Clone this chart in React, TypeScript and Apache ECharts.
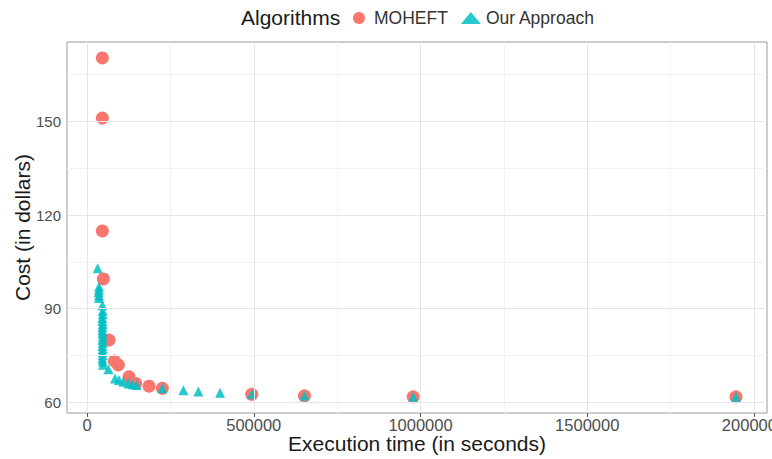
import React, { useEffect, useRef } from "react";
import * as echarts from "echarts";

// MOHEFT results: execution time (s) and cost ($)
const moheftTime = [46000, 46000, 46000, 49000, 66000, 82000, 94000, 126000, 146000, 186000, 226000, 494000, 652000, 978000, 1946000];
const moheftCost = [170.4, 151.1, 114.9, 99.5, 79.9, 73.2, 71.9, 68.1, 66.0, 65.1, 64.4, 62.5, 62.0, 61.7, 61.7];

// Our Approach results: execution time (s) and cost ($)
const oursTime = [
  32000, 36000, 36000, 35000, 36000, 36000, 46000, 47000, 47000, 46000, 46000, 47000, 46000, 46000, 46000,
  47000, 46000, 47000, 46000, 47000, 46000, 47000, 46000, 47000, 48000, 64000, 84000, 96000, 109000, 124000,
  136000, 149000, 226000, 289000, 334000, 399000, 494000, 652000, 978000, 1946000,
];
const oursCost = [
  102.9, 97.0, 96.0, 95.2, 94.2, 93.4, 91.1, 89.3, 88.2, 87.0, 86.0, 85.0, 84.0, 83.0, 82.1,
  81.0, 80.0, 79.0, 78.0, 77.0, 76.0, 75.0, 74.0, 73.0, 72.0, 70.5, 67.6, 67.1, 66.5, 66.0,
  65.7, 65.5, 64.4, 63.8, 63.4, 63.0, 62.5, 62.0, 61.7, 61.7,
];

// Axis ticks and grid lines
const xMajorTicks = [0, 500000, 1000000, 1500000, 2000000];
const xMinorTicks = [250000, 750000, 1250000, 1750000];
const yMajorTicks = [60, 90, 120, 150];
const yMinorTicks = [75, 105, 135, 165];

const X_MIN = -60000;
const X_MAX = 2039000;
const Y_MIN = 56.5;
const Y_MAX = 175.5;

const FONT = "'Liberation Sans', Arial, sans-serif";

export default function App() {
  const ref = useRef<HTMLDivElement>(null);

  useEffect(() => {
    if (!ref.current) return;
    const chart = echarts.init(ref.current, null, { renderer: "svg" });

    const moheftData = moheftTime.map((t, i) => [t, moheftCost[i]]);
    const oursData = oursTime.map((t, i) => [t, oursCost[i]]);

    const gridLines = [
      ...xMajorTicks.map((v) => ({ xAxis: v, lineStyle: { color: "#E6E6E6", width: 1, type: "solid" } })),
      ...xMinorTicks.map((v) => ({ xAxis: v, lineStyle: { color: "#F2F2F2", width: 1, type: "solid" } })),
      ...yMajorTicks.map((v) => ({ yAxis: v, lineStyle: { color: "#E6E6E6", width: 1, type: "solid" } })),
      ...yMinorTicks.map((v) => ({ yAxis: v, lineStyle: { color: "#F2F2F2", width: 1, type: "solid" } })),
    ];

    chart.setOption({
      animation: false,
      backgroundColor: "#ffffff",
      textStyle: { fontFamily: FONT },
      title: {
        text: "Algorithms",
        left: 241,
        top: 7,
        padding: 0,
        textStyle: { fontSize: 21, fontWeight: "normal", color: "#1a1a1a", fontFamily: FONT },
      },
      legend: {
        left: 353,
        top: 9,
        padding: 0,
        itemWidth: 20,
        itemHeight: 12,
        itemGap: 13,
        data: [
          { name: "MOHEFT", icon: "circle" },
          { name: "Our Approach", icon: "triangle" },
        ],
        textStyle: { fontSize: 17.5, color: "#333333", fontFamily: FONT },
      },
      grid: {
        left: 67,
        right: 5,
        top: 42,
        bottom: 46,
        outerBoundsMode: "none",
        containLabel: false,
        show: true,
        borderColor: "#9a9a9a",
        borderWidth: 1,
        backgroundColor: "transparent",
      },
      xAxis: {
        type: "value",
        min: X_MIN,
        max: X_MAX,
        name: "Execution time (in seconds)",
        nameLocation: "middle",
        nameGap: 20,
        nameMoveOverlap: false,
        nameTextStyle: { fontSize: 21, color: "#1a1a1a", fontFamily: FONT },
        axisLine: { show: false },
        axisTick: { show: true, length: 4, customValues: xMajorTicks, lineStyle: { color: "#555555" } },
        axisLabel: {
          customValues: xMajorTicks,
          formatter: (v: number) => String(v),
          fontSize: 16.5,
          color: "#4d4d4d",
          margin: 3,
          fontFamily: FONT,
        },
        splitLine: { show: false },
      },
      yAxis: {
        type: "value",
        min: Y_MIN,
        max: Y_MAX,
        name: "Cost (in dollars)",
        nameLocation: "middle",
        nameGap: 34,
        nameMoveOverlap: false,
        nameTextStyle: { fontSize: 21, color: "#1a1a1a", fontFamily: FONT },
        axisLine: { show: false },
        axisTick: { show: true, length: 4, customValues: yMajorTicks, lineStyle: { color: "#555555" } },
        axisLabel: {
          customValues: yMajorTicks,
          formatter: (v: number) => String(v),
          fontSize: 15,
          color: "#4d4d4d",
          margin: 6,
          fontFamily: FONT,
        },
        splitLine: { show: false },
      },
      series: [
        {
          name: "grid",
          type: "scatter",
          data: [],
          z: 1,
          silent: true,
          markLine: {
            silent: true,
            symbol: "none",
            label: { show: false },
            animation: false,
            data: gridLines,
          },
        },
        {
          name: "MOHEFT",
          type: "scatter",
          symbol: "circle",
          symbolSize: 13,
          z: 3,
          itemStyle: { color: "#F8766D", opacity: 1 },
          data: moheftData,
        },
        {
          name: "Our Approach",
          type: "scatter",
          symbol: "triangle",
          symbolSize: 10,
          z: 4,
          itemStyle: { color: "#00BFC4", opacity: 0.85 },
          data: oursData,
        },
      ],
    });

    return () => chart.dispose();
  }, []);

  return (
    <div
      ref={ref}
      style={{ position: "fixed", left: 0, top: 0, width: 772, height: 459, background: "#fff" }}
    />
  );
}
